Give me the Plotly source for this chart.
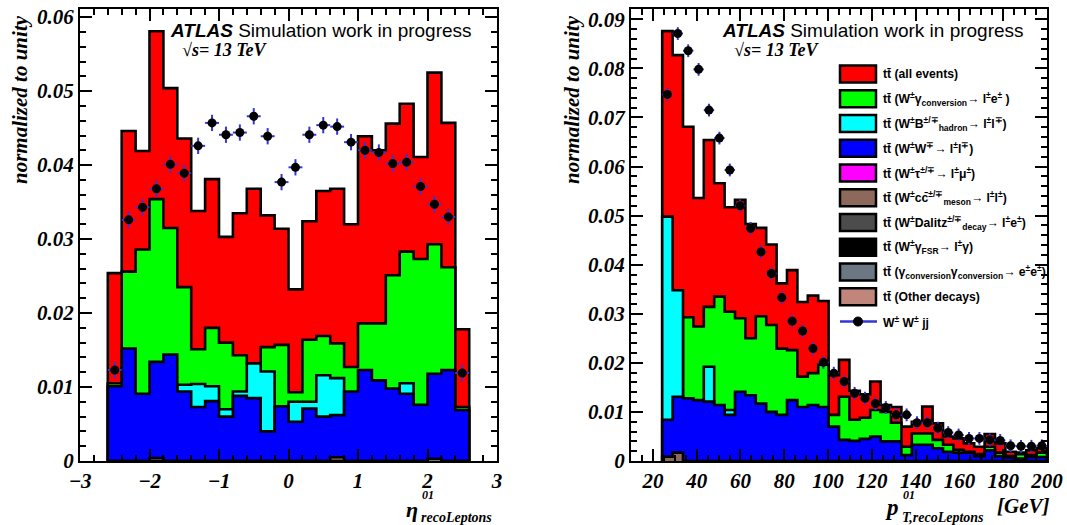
import numpy as np
import plotly.graph_objects as go

W, H = 1067, 525

# ---------------- data : eta of leading leptons (26 bins, -2.6 .. 2.6) ----------------
eta_edges = np.round(np.linspace(-2.6, 2.6, 27), 3)
eta_all = [0.0254, 0.0446, 0.0419, 0.0581, 0.0504, 0.0436, 0.0338, 0.0381, 0.0303, 0.0335,
           0.0368, 0.0332, 0.0314, 0.0232, 0.0324, 0.0365, 0.0368, 0.0320, 0.0439, 0.0420,
           0.0456, 0.0483, 0.0411, 0.0525, 0.0457, 0.0178]
eta_wgamma = [0.0105, 0.0256, 0.0286, 0.0354, 0.0315, 0.0235, 0.0151, 0.0180, 0.0160, 0.0143,
              0.0132, 0.0154, 0.0157, 0.0093, 0.0164, 0.0169, 0.0159, 0.0127, 0.0186, 0.0186,
              0.0251, 0.0283, 0.0273, 0.0293, 0.0262, 0.0073]
eta_bhadron = [0, 0, 0, 0, 0, 0.0103, 0.0104, 0.0101, 0.0070, 0.0094,
               0.0132, 0.0121, 0, 0.0080, 0.0080, 0.0116, 0.0112, 0, 0, 0,
               0, 0.0105, 0, 0, 0, 0]
eta_ww = [0.0101, 0.0152, 0.0091, 0.0134, 0.0144, 0.0094, 0.0073, 0.0081, 0.0060, 0.0088,
          0.0085, 0.0040, 0.0074, 0.0053, 0.0071, 0.0060, 0.0062, 0.0094, 0.0123, 0.0109,
          0.0098, 0.0091, 0.0076, 0.0118, 0.0123, 0.0069]
eta_ccbar = [0, 0, 0, 0.0004, 0, 0, 0, 0, 0, 0, 0, 0, 0, 0, 0, 0, 0.0005, 0, 0, 0, 0, 0, 0, 0, 0, 0]
eta_gamgam = [0, 0, 0, 0, 0, 0, 0, 0, 0, 0, 0, 0, 0, 0, 0, 0, 0, 0, 0, 0, 0, 0, 0, 0.0003, 0, 0]
eta_wwjj = [0.0123, 0.0326, 0.0343, 0.0368, 0.0401, 0.0389, 0.0426, 0.0457, 0.0441, 0.0444,
            0.0466, 0.0439, 0.0377, 0.0397, 0.0441, 0.0454, 0.0452, 0.0431, 0.0420, 0.0417,
            0.0402, 0.0404, 0.0371, 0.0347, 0.0330, 0.0119]

# ---------------- data : pT of leading leptons (bins of 4.75 GeV from 24.25 to 200) -------
pt_edges = np.linspace(10, 200, 41)[3:]
pt_all = [0.0876, 0.0827, 0.0681, 0.0536, 0.0654, 0.0566, 0.0517, 0.0532, 0.0483, 0.0475,
          0.0441, 0.0362, 0.0389, 0.0324, 0.0337, 0.0326, 0.0175, 0.0206, 0.0143, 0.0136,
          0.0162, 0.0114, 0.0110, 0.0070, 0.0080, 0.0111, 0.0077, 0.0050, 0.0046, 0.0036,
          0.0029, 0.0055, 0.0036, 0.0019, 0.0017, 0.0022, 0.0026]
pt_wgamma = [0, 0, 0.0293, 0.0274, 0.0314, 0.0335, 0.0304, 0.0291, 0.0250, 0.0295,
             0.0277, 0.0229, 0.0226, 0.0172, 0.0179, 0.0196, 0.0094, 0.0131, 0.0084, 0.0088,
             0.0104, 0.0100, 0.0078, 0.0029, 0.0056, 0.0056, 0.0043, 0.0033, 0.0023, 0.0019,
             0.0014, 0.0029, 0.0017, 0.0010, 0.0014, 0.0012, 0.0017]
pt_bhadron = [0.0498, 0.0348, 0, 0, 0.0192, 0, 0.0104, 0, 0, 0,
              0, 0, 0, 0, 0, 0, 0, 0, 0, 0,
              0, 0, 0, 0, 0, 0, 0, 0, 0, 0,
              0, 0, 0, 0, 0, 0, 0]
pt_ww = [0.0084, 0.0131, 0.0128, 0.0124, 0.0121, 0.0114, 0.0094, 0.0141, 0.0134, 0.0117,
         0.0100, 0.0094, 0.0124, 0.0110, 0.0114, 0.0110, 0.0070, 0.0043, 0.0041, 0.0045,
         0.0050, 0.0040, 0.0040, 0.0012, 0.0033, 0.0033, 0.0026, 0.0019, 0.0017, 0.0017,
         0.0010, 0.0022, 0.0010, 0.0007, 0.0005, 0.0008, 0.0008]
pt_ccbar = [0.0009, 0.0017] + [0] * 35
pt_wwjj = [0.0747, 0.0871, 0.0836, 0.0798, 0.0715, 0.0658, 0.0593, 0.0520, 0.0474, 0.0426,
           0.0382, 0.0333, 0.0285, 0.0265, 0.0229, 0.0201, 0.0179, 0.0162, 0.0138, 0.0128,
           0.0117, 0.0109, 0.0094, 0.0094, 0.0078, 0.0078, 0.0067, 0.0058, 0.0053, 0.0046,
           0.0046, 0.0043, 0.0042, 0.0031, 0.0030, 0.0030, 0.0031]

TT = "tt\u0304"
legend_items = [
    (TT + " (all events)", "#ff0000"),
    (TT + " (W<sup>±</sup>γ<sub>conversion</sub>→ l<sup>±</sup>e<sup>±</sup> )", "#00ff00"),
    (TT + " (W<sup>±</sup>B<sup>±/∓</sup><sub>hadron</sub>→ l<sup>±</sup>l<sup>∓</sup>)", "#00ffff"),
    (TT + " (W<sup>±</sup>W<sup>∓</sup>→ l<sup>±</sup>l<sup>∓</sup>)", "#0000ff"),
    (TT + " (W<sup>±</sup>τ<sup>±/∓</sup>→ l<sup>±</sup>μ<sup>±</sup>)", "#ff00ff"),
    (TT + " (W<sup>±</sup>cc\u0304<sup>±/∓</sup><sub>meson</sub>→ l<sup>±</sup>l<sup>±</sup>)", "#8c695a"),
    (TT + " (W<sup>±</sup>Dalitz<sup>±/∓</sup><sub>decay</sub>→ l<sup>±</sup>e<sup>±</sup>)", "#4c4c4c"),
    (TT + " (W<sup>±</sup>γ<sub>FSR</sub>→ l<sup>±</sup>γ)", "#000000"),
    (TT + " (γ<sub>conversion</sub>γ<sub>conversion</sub>→ e<sup>±</sup>e<sup>±</sup>)", "#6b7782"),
    (TT + " (Other decays)", "#c0867c"),
]
wwjj_label = "W<sup>±</sup> W<sup>±</sup> jj"

RED, GREEN, CYAN, BLUE = "#ff0000", "#00ff00", "#00ffff", "#0000ff"
BROWN, SLATE = "#8c695a", "#6b7782"
ERRBLUE = "#3535d5"


def step_xy(edges, vals):
    xs = [edges[0]]
    ys = [0]
    for i, v in enumerate(vals):
        xs.append(edges[i])
        ys.append(v)
    xs.append(edges[-1]); ys.append(vals[-1])
    xs.append(edges[-1]); ys.append(0)
    return xs, ys


fig = go.Figure()


def add_hist(edges, vals, color, xa, ya):
    xs, ys = step_xy(list(edges), vals)
    fig.add_trace(go.Scatter(x=xs, y=ys, mode="lines", line=dict(color="black", width=2.6, shape="hv"),
                             fill="tozeroy", fillcolor=color, xaxis=xa, yaxis=ya,
                             showlegend=False, hoverinfo="skip"))


for vals, col in [(eta_all, RED), (eta_wgamma, GREEN), (eta_bhadron, CYAN), (eta_ww, BLUE),
                  (eta_ccbar, BROWN), (eta_gamgam, SLATE)]:
    add_hist(eta_edges, vals, col, "x", "y")

for vals, col in [(pt_all, RED), (pt_wgamma, GREEN), (pt_bhadron, CYAN), (pt_ww, BLUE),
                  (pt_ccbar, BROWN)]:
    add_hist(pt_edges, vals, col, "x2", "y2")

eta_centers = (eta_edges[:-1] + eta_edges[1:]) / 2
pt_centers = (pt_edges[:-1] + pt_edges[1:]) / 2

fig.add_trace(go.Scatter(x=eta_centers, y=eta_wwjj, mode="markers",
                         marker=dict(color="black", size=9),
                         error_x=dict(type="constant", value=0.1, color=ERRBLUE, thickness=2, width=0),
                         error_y=dict(type="constant", value=0.0011, color=ERRBLUE, thickness=2, width=0),
                         xaxis="x", yaxis="y", showlegend=False, hoverinfo="skip"))
fig.add_trace(go.Scatter(x=pt_centers, y=pt_wwjj, mode="markers",
                         marker=dict(color="black", size=9),
                         error_x=dict(type="constant", value=2.375, color=ERRBLUE, thickness=2, width=0),
                         error_y=dict(type="constant", value=0.0013, color=ERRBLUE, thickness=2, width=0),
                         xaxis="x2", yaxis="y2", showlegend=False, hoverinfo="skip"))


def PX(x):
    return x / W


def PY(y):
    return 1 - y / H


tickfont = dict(family="Liberation Serif", size=21, color="black", weight="bold", style="italic")
ydom = [PY(461), PY(9)]


def axis(dom, rng, dtick, mdtick, tick0=0):
    return dict(domain=dom, range=rng, dtick=dtick, tick0=tick0, ticks="inside", ticklen=12,
                tickwidth=1.5, tickcolor="black", mirror="ticks", showline=True, linewidth=2.2,
                linecolor="black", showgrid=False, zeroline=False, tickfont=tickfont,
                automargin=False,
                minor=dict(dtick=mdtick, ticks="inside", ticklen=6, tickwidth=1.5, tickcolor="black",
                           showgrid=False))


serif = "Liberation Serif"
sans = "Liberation Sans"
ann = []
shapes = []


def text(x, y, s, size, family, xanchor="left", yanchor="middle", angle=0, weight="normal", style="normal"):
    ann.append(dict(x=PX(x), y=PY(y), xref="paper", yref="paper", text=s, showarrow=False,
                    xanchor=xanchor, yanchor=yanchor, textangle=angle, borderpad=0,
                    font=dict(family=family, size=size, color="black", weight=weight, style=style)))


# ATLAS labels
for x0 in (169, 721):
    text(x0, 30, "<b><i>ATLAS</i></b> Simulation work in progress", 19, sans)
    text(x0 + 12, 50, "√s= 13 TeV", 18, serif, weight="bold", style="italic")

# y titles
for xc in (20, 572):
    text(xc, 100, "normalized to unity", 21, serif, xanchor="center", angle=-90,
         weight="bold", style="italic")

# x titles
text(419, 509, "η", 22, serif, xanchor="right", weight="bold", style="italic")
text(421, 495, "01", 12, serif, weight="bold", style="italic")
text(420, 517, "recoLeptons", 14, serif, weight="bold", style="italic")

text(900, 507, "p", 23, serif, xanchor="right", weight="bold", style="italic")
text(902, 495, "01", 12, serif, weight="bold", style="italic")
text(901, 517, "T,recoLeptons", 14, serif, weight="bold", style="italic")
text(1050, 506, "[GeV]", 21, serif, xanchor="right", weight="bold", style="italic")

# legend
row0, dy = 74, 24.75
for i, (lab, col) in enumerate(legend_items):
    c = row0 + i * dy
    shapes.append(dict(type="rect", xref="paper", yref="paper", x0=PX(840), x1=PX(876),
                       y0=PY(c + 8.6), y1=PY(c - 8.6), fillcolor=col,
                       line=dict(color="black", width=2.5)))
    text(882, c, lab, 12.2, sans, weight="bold")
c = row0 + len(legend_items) * dy
shapes.append(dict(type="line", xref="paper", yref="paper", x0=PX(840), x1=PX(877),
                   y0=PY(c), y1=PY(c), line=dict(color=ERRBLUE, width=2.5)))
shapes.append(dict(type="circle", xref="paper", yref="paper", x0=PX(853.5), x1=PX(862.5),
                   y0=PY(c + 4.5), y1=PY(c - 4.5), fillcolor="black", line=dict(color="black", width=1)))
text(882, c, wwjj_label, 12.2, sans, weight="bold")

fig.update_layout(
    width=W, height=H, margin=dict(l=0, r=0, t=0, b=0, pad=0, autoexpand=False),
    paper_bgcolor="white", plot_bgcolor="white", showlegend=False,
    xaxis=axis([PX(80), PX(497)], [-3, 3], 1, 0.2),
    yaxis=axis(ydom, [0, 0.0611], 0.01, 0.002),
    xaxis2=dict(axis([PX(631), PX(1047)], [10, 200], 20, 5), anchor="y2"),
    yaxis2=dict(axis(ydom, [0, 0.0921], 0.01, 0.002), anchor="x2"),
    annotations=ann, shapes=shapes,
)
fig.update_layout(xaxis=dict(anchor="y"), yaxis=dict(anchor="x"))

fig.write_html("out.html", config={"displayModeBar": False},
               post_script="document.body.style.margin='0px';document.body.style.overflow='hidden';")
